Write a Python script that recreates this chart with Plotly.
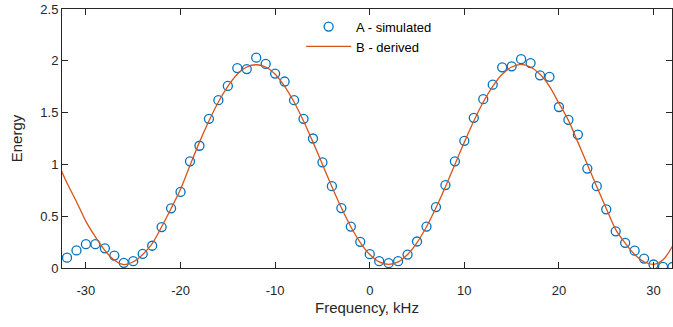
import plotly.graph_objects as go

# Simulated data (markers), frequency in kHz
freq_sim = list(range(-32, 33))
energy_sim = [
    0.10, 0.17, 0.23, 0.23, 0.19, 0.12, 0.05, 0.066, 0.136, 0.215,
    0.395, 0.576, 0.734, 1.03, 1.18, 1.44, 1.62, 1.757, 1.93, 1.92,
    2.03, 1.97, 1.877, 1.80, 1.62, 1.44, 1.25, 1.02, 0.79, 0.578,
    0.40, 0.253, 0.133, 0.066, 0.047, 0.066, 0.13, 0.256, 0.40, 0.588,
    0.80, 1.03, 1.228, 1.45, 1.63, 1.77, 1.937, 1.947, 2.016, 1.978,
    1.86, 1.845, 1.554, 1.43, 1.288, 0.96, 0.79, 0.566, 0.354, 0.243,
    0.167, 0.091, 0.034, 0.01, 0.01,
]

# Derived curve (line)
freq_der = [-32.6] + list(range(-32, 33)) + [32.2]
energy_der = [
    0.94,
    0.82, 0.64, 0.45, 0.30, 0.17, 0.075, 0.033, 0.06, 0.13, 0.235,
    0.398, 0.575, 0.76, 0.99, 1.215, 1.419, 1.602, 1.754, 1.87, 1.94,
    1.962, 1.94, 1.87, 1.754, 1.602, 1.419, 1.215, 1.0, 0.785, 0.581,
    0.398, 0.246, 0.131, 0.059, 0.035, 0.059, 0.131, 0.246, 0.398, 0.581,
    0.785, 1.0, 1.215, 1.419, 1.602, 1.754, 1.87, 1.94, 1.965, 1.94,
    1.87, 1.754, 1.59, 1.425, 1.215, 1.0, 0.785, 0.575, 0.37, 0.24,
    0.13, 0.06, 0.035, 0.08, 0.21,
    0.25,
]

x_tick_vals = [-30, -20, -10, 0, 10, 20, 30]
x_tick_text = ["-30", "-20", "-10", "0", "10", "20", "30"]
y_tick_vals = [0, 0.5, 1, 1.5, 2, 2.5]
y_tick_text = ["0", "0.5", "1", "1.5", "2", "2.5"]

FONT = "Liberation Sans, Arial, Helvetica, sans-serif"
AX = "#262626"

fig = go.Figure()
fig.add_trace(go.Scatter(
    x=freq_sim, y=energy_sim, mode="markers", name="A - simulated",
    marker=dict(symbol="circle-open", size=9, color="#0072BD",
                line=dict(width=1.3, color="#0072BD")),
))
fig.add_trace(go.Scatter(
    x=freq_der, y=energy_der, mode="lines", name="B - derived",
    line=dict(color="#D95319", width=1.3, shape="spline", smoothing=0.8),
))

axis_common = dict(
    showgrid=False, zeroline=False, showline=True, linecolor=AX, linewidth=1,
    mirror="ticks", ticks="inside", ticklen=6, tickwidth=1, tickcolor=AX,
    tickfont=dict(family=FONT, size=13, color=AX),
)

fig.update_layout(
    width=673, height=327,
    margin=dict(l=62, r=1, t=9, b=59),
    paper_bgcolor="white", plot_bgcolor="white",
    font=dict(family=FONT, color=AX),
    xaxis=dict(range=[-32.53, 31.95], tickvals=x_tick_vals, ticktext=x_tick_text,
               ticklabelstandoff=10,
               title=dict(text="Frequency, kHz", font=dict(family=FONT, size=15, color=AX),
                          standoff=5),
               **axis_common),
    yaxis=dict(range=[0, 2.5], tickvals=y_tick_vals, ticktext=y_tick_text,
               title=dict(text="Energy", font=dict(family=FONT, size=15, color=AX),
                          standoff=14),
               **axis_common),
    legend=dict(x=0.392, y=0.99, xanchor="left", yanchor="top",
                bgcolor="rgba(255,255,255,0)", borderwidth=0,
                font=dict(family=FONT, size=13, color="#000000"),
                itemwidth=45, tracegroupgap=0),
    showlegend=True,
)

fig.write_html("out.html")
